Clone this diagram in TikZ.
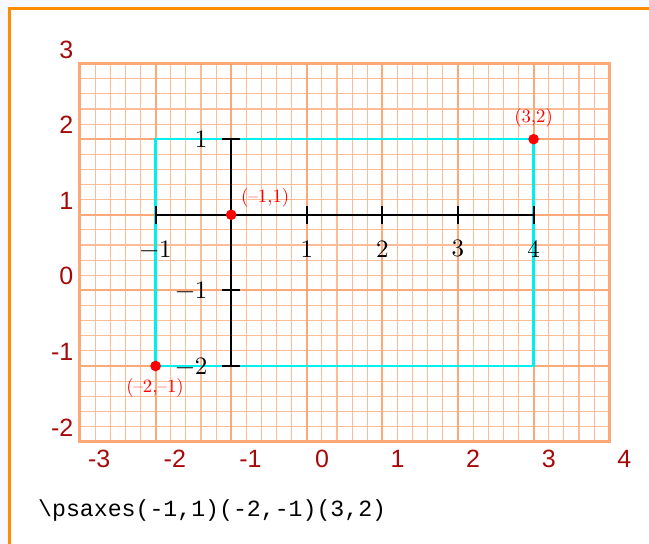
\documentclass[tikz,border=0pt]{standalone}
\usepackage{fontspec}
\newfontfamily\gridfont{Liberation Sans}
\newfontfamily\codefont{Liberation Mono}
\newfontfamily\lmtenfont[Ligatures=TeX]{lmroman10-regular.otf}
\definecolor{pagebg}{RGB}{248,248,255}
\definecolor{frameor}{RGB}{255,140,0}
\definecolor{gridmajor}{RGB}{252,168,120}
\definecolor{gridminor}{RGB}{252,188,150}
\definecolor{labred}{RGB}{165,10,10}
\definecolor{rectcyan}{RGB}{0,240,240}
\begin{document}
\begin{tikzpicture}[x=75.6pt,y=75.6pt,
 glab/.style={font=\gridfont\fontsize{25}{30}\selectfont, text=labred, inner sep=0pt},
 alab/.style={font=\lmtenfont\fontsize{25}{30}\selectfont, inner sep=0pt},
 plab/.style={font=\lmtenfont\fontsize{18.8}{22}\selectfont, text=red, inner sep=0pt},
 dot/.style={circle, fill=red, inner sep=0pt, minimum size=10.6pt},
 axisline/.style={line width=2pt, black},
 tickline/.style={line width=2pt, black},
]
\useasboundingbox (-4.0582,-3.3545) rectangle (4.5265,3.8413);
\fill[pagebg] (-4.0582,-3.3545) rectangle (4.5265,3.8413);
\fill[white] (-3.930,-3.3545) rectangle (4.5265,3.730);
\draw[frameor, line width=3pt] (-3.930,-3.5) -- (-3.930,3.730) -- (4.7,3.730);
% grid
\draw[gridminor, line width=1.1pt, step=0.2] (-3,-2) grid (4,3);
\draw[gridmajor, line width=2pt, step=1] (-3,-2) grid (4,3);
\draw[gridmajor, line width=3pt] (-3,-2) rectangle (4,3);
% grid labels
\foreach \k in {-3,-2,-1} {\node[glab] (gx\k) at (\k+0.254,-2.23) {\k};}
\foreach \k in {0,1,2,3,4} {\node[glab] (gx\k) at (\k+0.201,-2.23) {\k};}
\foreach \k in {-2,-1,0,1,2,3} {\node[glab, anchor=east] (gy\k) at (-3.086,\k+0.1865) {\k};}
% rectangle
\draw[rectcyan, line width=2.5pt] (-2,-1) rectangle (3,2);
% axes
\coordinate (xa) at (-2,1);
\coordinate (xb) at (3,1);
\coordinate (ya) at (-1,-1);
\coordinate (yb) at (-1,2);
\draw[axisline] (xa) -- (xb);
\draw[axisline] (ya) -- (yb);
\foreach \x/\t in {-2/−1,0/1,1/2,2/3,3/4} {
  \draw[tickline] (\x,1-0.119) -- (\x,1+0.119);
  \node[alab] (ax\x) at (\x,0.55) {\t};
}
\foreach \y/\t in {2/1,0/−1,-1/−2} {
  \draw[tickline] (-1-0.119,\y) -- (-1+0.119,\y);
  \node[alab, anchor=east] (ay\y) at (-1.313,\y) {\t};
}
% points
\node[dot] (p1) at (-1,1) {};
\node[dot] (p2) at (-2,-1) {};
\node[dot] (p3) at (3,2) {};
\node[plab, anchor=west] (l1) at (-0.87,1.229) {(–1,1)};
\node[plab] (l2) at (-2.008,-1.291) {(–2,–1)};
\node[plab] (l3) at (3.0,2.287) {(3,2)};
% code
\node[anchor=base west, inner sep=0pt, font=\codefont\fontsize{23.2}{27}\selectfont] (code) at (-3.556,-2.99) {\textbackslash psaxes(-1,1)(-2,-1)(3,2)};
\end{tikzpicture}
\end{document}
